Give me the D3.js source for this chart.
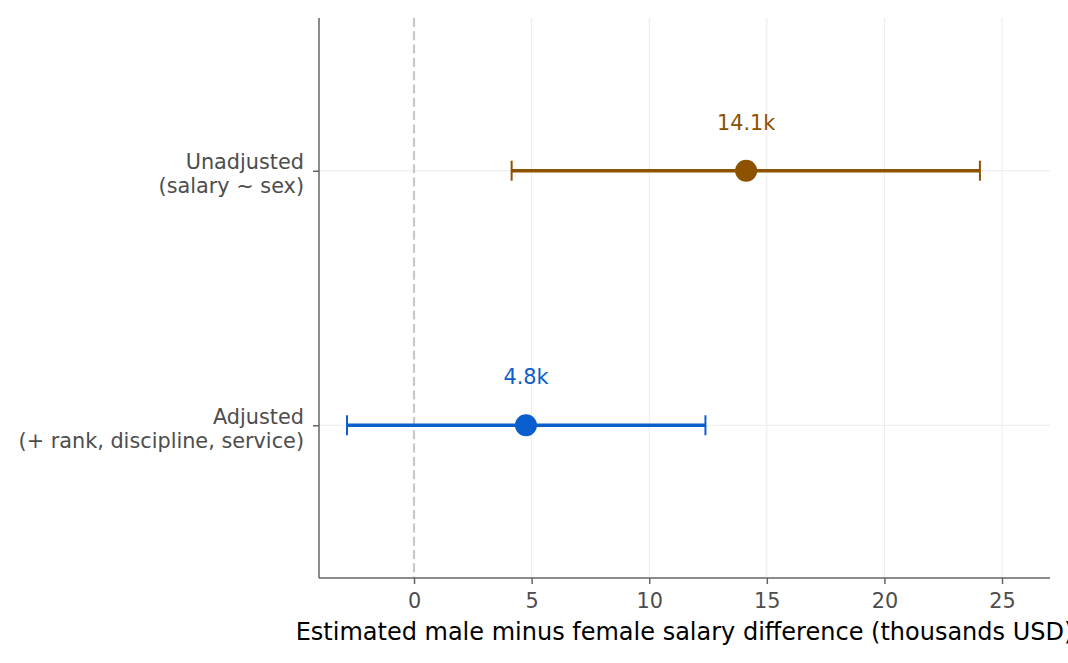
<!DOCTYPE html>
<html>
<head>
<meta charset="utf-8">
<script src="https://d3js.org/d3.v7.min.js"></script>
<style>
  body { margin: 0; background: #fff; }
  text { font-family: "DejaVu Sans", sans-serif; }
</style>
</head>
<body>
<svg width="1068" height="663"></svg>
<script>

// data
var models = ["Unadjusted", "Adjusted"];
var modelLines = [["Unadjusted", "(salary ~ sex)"], ["Adjusted", "(+ rank, discipline, service)"]];
var estimates = [14.12, 4.76];
var lower = [4.15, -2.85];
var upper = [24.06, 12.39];
var labels = ["14.1k", "4.8k"];
var colors = ["#8c5200", "#0a5ecd"];
var xTicks = [0, 5, 10, 15, 20, 25];

var svg = d3.select("svg"),
    margin = {top: 18, right: 18, bottom: 85, left: 319},
    width = +svg.attr("width") - margin.left - margin.right,
    height = +svg.attr("height") - margin.top - margin.bottom;

var g = svg.append("g").attr("transform", "translate(" + margin.left + "," + margin.top + ")");

var x = d3.scaleLinear().domain([-4.04, 27.04]).range([0, width]);
var y = d3.scalePoint().domain(models).range([0, height]).padding(0.6);

// grid
g.append("g").selectAll("line").data(xTicks.filter(function (d) { return d != 0; }))
  .enter().append("line")
  .attr("x1", function (d) { return x(d); }).attr("x2", function (d) { return x(d); })
  .attr("y1", 0).attr("y2", height)
  .style("stroke", "#ebebeb").style("stroke-width", 1);

g.append("g").selectAll("line").data(models)
  .enter().append("line")
  .attr("x1", 0).attr("x2", width)
  .attr("y1", function (d) { return y(d); }).attr("y2", function (d) { return y(d); })
  .style("stroke", "#ebebeb").style("stroke-width", 1);

// zero line
g.append("line")
  .attr("x1", x(0)).attr("x2", x(0))
  .attr("y1", 0).attr("y2", height)
  .style("stroke", "#c8c8cc").style("stroke-width", 2.2)
  .style("stroke-dasharray", "9,4.3");

// axes
var xAxis = g.append("g")
  .attr("transform", "translate(0," + height + ")")
  .call(d3.axisBottom(x).tickValues(xTicks).tickSize(6).tickSizeOuter(0).tickPadding(9));

var yAxis = g.append("g")
  .call(d3.axisLeft(y).tickSize(6).tickSizeOuter(0).tickFormat(""));

[xAxis, yAxis].forEach(function (a) {
  a.select(".domain").style("stroke", "#666").style("stroke-width", 1.5);
  a.selectAll(".tick line").style("stroke", "#666").style("stroke-width", 1.5);
  a.selectAll(".tick text").style("font-family", "DejaVu Sans").style("font-size", "20.8px").style("fill", "#4d4d4d");
});
xAxis.select(".domain").attr("d", "M0,0H" + width);
yAxis.select(".domain").attr("d", "M0,0V" + height);

// two-line category labels
yAxis.selectAll(".tick").each(function (d, i) {
  var t = d3.select(this).append("text")
    .attr("x", -15)
    .attr("text-anchor", "end")
    .style("font-family", "DejaVu Sans").style("font-size", "20.8px").style("fill", "#4d4d4d");
  modelLines[i].forEach(function (s, j) {
    t.append("tspan").attr("x", -15).attr("y", j == 0 ? -2 : 22).text(s);
  });
});

// error bars
var rows = models.map(function (m, i) {
  return {m: m, est: estimates[i], lo: lower[i], hi: upper[i], lab: labels[i], col: colors[i]};
});

var bar = g.append("g").selectAll("g").data(rows).enter().append("g");

bar.append("line")
  .attr("x1", function (d) { return x(d.lo); }).attr("x2", function (d) { return x(d.hi); })
  .attr("y1", function (d) { return y(d.m); }).attr("y2", function (d) { return y(d.m); })
  .style("stroke", function (d) { return d.col; }).style("stroke-width", 3.5);

["lo", "hi"].forEach(function (k) {
  bar.append("line")
    .attr("x1", function (d) { return x(d[k]); }).attr("x2", function (d) { return x(d[k]); })
    .attr("y1", function (d) { return y(d.m) - 10; }).attr("y2", function (d) { return y(d.m) + 10; })
    .style("stroke", function (d) { return d.col; }).style("stroke-width", 2);
});

bar.append("circle")
  .attr("cx", function (d) { return x(d.est); })
  .attr("cy", function (d) { return y(d.m); })
  .attr("r", 11)
  .style("fill", function (d) { return d.col; });

bar.append("text")
  .attr("x", function (d) { return x(d.est); })
  .attr("y", function (d) { return y(d.m) - 41; })
  .attr("text-anchor", "middle")
  .style("font-size", "20.8px")
  .style("fill", function (d) { return d.col; })
  .text(function (d) { return d.lab; });

// x label
svg.append("text")
  .attr("x", margin.left + width / 2)
  .attr("y", 640)
  .attr("text-anchor", "middle")
  .style("font-size", "24px")
  .style("fill", "#000")
  .text("Estimated male minus female salary difference (thousands USD)");

</script>
</body>
</html>
